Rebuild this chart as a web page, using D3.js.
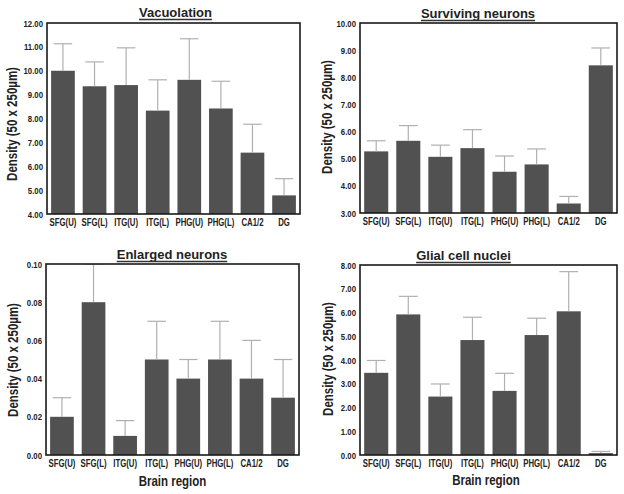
<!DOCTYPE html>
<html>
<head>
<meta charset="utf-8">
<script src="https://cdn.jsdelivr.net/npm/d3@7"></script>
<style>
  html, body { margin: 0; padding: 0; background: #fff; }
  svg { display: block; }
  .tick text { font-family: "Liberation Sans", Arial, Helvetica, sans-serif; font-weight: bold; fill: #222; }
</style>
</head>
<body>
<svg id="chart" width="624" height="494"></svg>
<script>
// ---- Data ----
const categories = ["SFG(U)", "SFG(L)", "ITG(U)", "ITG(L)", "PHG(U)", "PHG(L)", "CA1/2", "DG"];

const vacuolation    = [10.00, 9.35, 9.40, 8.33, 9.62, 8.42, 6.57, 4.78];
const vacuolationErr = [1.13, 1.02, 1.56, 1.29, 1.72, 1.14, 1.19, 0.70];

const surviving      = [5.27, 5.66, 5.07, 5.39, 4.52, 4.79, 3.35, 8.44];
const survivingErr   = [0.39, 0.56, 0.43, 0.68, 0.58, 0.57, 0.26, 0.64];

const enlarged       = [0.02, 0.08, 0.01, 0.05, 0.04, 0.05, 0.04, 0.03];
const enlargedErr    = [0.01, 0.02, 0.008, 0.02, 0.01, 0.02, 0.02, 0.02];

const glial          = [3.46, 5.92, 2.46, 4.84, 2.70, 5.05, 6.05, 0.08];
const glialErr       = [0.52, 0.76, 0.53, 0.96, 0.74, 0.71, 1.67, 0.07];

const vacuolationTicks = [4, 5, 6, 7, 8, 9, 10, 11, 12];
const survivingTicks   = [3, 4, 5, 6, 7, 8, 9, 10];
const enlargedTicks    = [0, 0.02, 0.04, 0.06, 0.08, 0.10];
const glialTicks       = [0, 1, 2, 3, 4, 5, 6, 7, 8];

const titles = ["Vacuolation", "Surviving neurons", "Enlarged neurons", "Glial cell nuclei"];
const yLabel = "Density (50 x 250\u00B5m)";
const xLabel = "Brain region";

// ---- Layout ----
const panels = [
  { title: titles[0], values: vacuolation, errs: vacuolationErr, ticks: vacuolationTicks, domain: [4, 12],
    x0: 47, x1: 300, y0: 23, y1: 214, titleX: 175.5, titleY: 17, ylx: 17, yly: 124, xlab: false },
  { title: titles[1], values: surviving, errs: survivingErr, ticks: survivingTicks, domain: [3, 10],
    x0: 360, x1: 617, y0: 23, y1: 213, titleX: 478, titleY: 18, ylx: 332, yly: 117, xlab: false },
  { title: titles[2], values: enlarged, errs: enlargedErr, ticks: enlargedTicks, domain: [0, 0.10],
    x0: 46, x1: 299, y0: 264, y1: 455, titleX: 172, titleY: 259, ylx: 17.5, yly: 360, xlab: true, xlx: 172.5, xly: 486 },
  { title: titles[3], values: glial, errs: glialErr, ticks: glialTicks, domain: [0, 8],
    x0: 360, x1: 617, y0: 265, y1: 455, titleX: 463.5, titleY: 260, ylx: 333, yly: 359, xlab: true, xlx: 486, xly: 485 }
];

const svg = d3.select("#chart");
const boldFont = '"Liberation Sans", Arial, Helvetica, sans-serif';
const NARROW = 0.82;

// condense text horizontally (emulates a narrow bold face)
function narrow(sel, f) {
  sel.each(function () {
    const w = this.getComputedTextLength();
    d3.select(this).attr("textLength", w * (f || NARROW)).attr("lengthAdjust", "spacingAndGlyphs");
  });
}

panels.forEach((p, pi) => {
  const x = d3.scaleBand().domain(categories).range([p.x0, p.x1]).paddingInner(0.25).paddingOuter(0.13);
  const y = d3.scaleLinear().domain(p.domain).range([p.y1, p.y0]);

  const clipId = "clip" + pi;
  svg.append("clipPath").attr("id", clipId)
    .append("rect").attr("x", p.x0).attr("y", p.y0).attr("width", p.x1 - p.x0).attr("height", p.y1 - p.y0);

  const g = svg.append("g").attr("clip-path", `url(#${clipId})`);

  const data = categories.map((c, i) => ({ c, v: p.values[i], e: p.errs[i] }));

  // bars
  g.selectAll("rect.bar").data(data).join("rect")
    .attr("class", "bar")
    .attr("x", d => x(d.c))
    .attr("width", x.bandwidth())
    .attr("y", d => y(d.v))
    .attr("height", d => y(p.domain[0]) - y(d.v))
    .attr("fill", "#515151");

  // error bars (upper only)
  const capW = x.bandwidth() * 0.78;
  g.selectAll("line.err").data(data).join("line")
    .attr("class", "err")
    .attr("x1", d => x(d.c) + x.bandwidth() / 2)
    .attr("x2", d => x(d.c) + x.bandwidth() / 2)
    .attr("y1", d => y(d.v))
    .attr("y2", d => y(d.v + d.e))
    .attr("stroke", "#b0b0b0").attr("stroke-width", 1.2);
  g.selectAll("line.cap").data(data).join("line")
    .attr("class", "cap")
    .attr("x1", d => x(d.c) + x.bandwidth() / 2 - capW / 2)
    .attr("x2", d => x(d.c) + x.bandwidth() / 2 + capW / 2)
    .attr("y1", d => y(d.v + d.e))
    .attr("y2", d => y(d.v + d.e))
    .attr("stroke", "#b0b0b0").attr("stroke-width", 1.2);

  // frame
  svg.append("rect")
    .attr("x", p.x0).attr("y", p.y0)
    .attr("width", p.x1 - p.x0).attr("height", p.y1 - p.y0)
    .attr("fill", "none").attr("stroke", "#1a1a1a").attr("stroke-width", 1.6);

  // y axis
  const yAxis = d3.axisLeft(y).tickValues(p.ticks).tickFormat(d3.format(".2f")).tickSize(0).tickPadding(4);
  const ya = svg.append("g").attr("transform", `translate(${p.x0},0)`).call(yAxis);
  ya.select(".domain").remove();
  ya.selectAll("text").style("font-size", "9.5px").call(narrow);

  // x axis (labels condensed with a horizontal scale about their centre)
  const xAxis = d3.axisBottom(x).tickSize(0).tickPadding(5);
  const xa = svg.append("g").attr("transform", `translate(0,${p.y1})`).call(xAxis);
  xa.select(".domain").remove();
  xa.selectAll("text").style("font-size", "10px").attr("transform", "scale(0.78,1)");

  // title with underline
  const t = svg.append("text")
    .attr("x", p.titleX).attr("y", p.titleY)
    .attr("text-anchor", "middle")
    .style("font-family", boldFont).style("font-weight", "bold").style("font-size", "13px")
    .attr("fill", "#222")
    .text(p.title);
  const tw = t.node().getComputedTextLength();
  svg.append("line")
    .attr("x1", p.titleX - tw / 2).attr("x2", p.titleX + tw / 2)
    .attr("y1", p.titleY + 2.5).attr("y2", p.titleY + 2.5)
    .attr("stroke", "#333").attr("stroke-width", 1.3);

  // y label
  svg.append("text")
    .attr("transform", `translate(${p.ylx},${p.yly}) rotate(-90)`)
    .attr("text-anchor", "middle")
    .style("font-family", boldFont).style("font-weight", "bold").style("font-size", "14px")
    .attr("fill", "#222")
    .text(yLabel)
    .call(narrow);

  // x label
  if (p.xlab) {
    svg.append("text")
      .attr("x", p.xlx).attr("y", p.xly)
      .attr("text-anchor", "middle")
      .style("font-family", boldFont).style("font-weight", "bold").style("font-size", "14px")
      .attr("fill", "#222")
      .text(xLabel)
      .call(narrow);
  }
});
</script>
</body>
</html>
